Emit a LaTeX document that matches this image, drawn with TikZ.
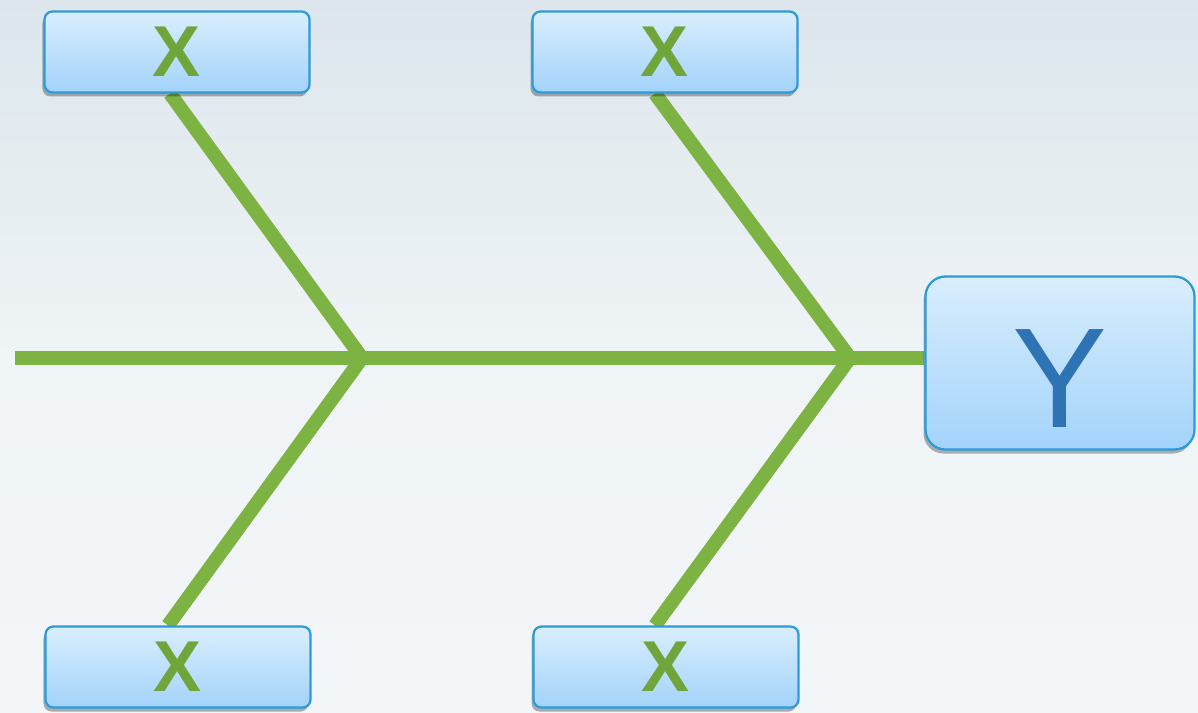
\documentclass[tikz,border=0pt]{standalone}
\usepackage{fontspec}
\setmainfont{Liberation Sans}
\usetikzlibrary{positioning,shadows,backgrounds}

\definecolor{bonegreen}{HTML}{7CB342}
\definecolor{xgreen}{HTML}{6FA53A}
\definecolor{ynavy}{HTML}{2E74B5}
\definecolor{boxline}{HTML}{2B9BD9}
\definecolor{boxtop}{HTML}{D9EEFD}
\definecolor{boxbot}{HTML}{A3D3FB}
\definecolor{skytop}{HTML}{DCE6EC}
\definecolor{skymid}{HTML}{EFF4F6}
\definecolor{skybot}{HTML}{F3F6F8}

\begin{document}
\begin{tikzpicture}[
  x=0.2mm, y=-0.2mm,
  causebox/.style={draw=boxline, line width=0.45mm, rounded corners=1.6mm,
    top color=boxtop, bottom color=boxbot, minimum width=53mm, minimum height=16.2mm,
    inner sep=0pt, text=xgreen, font=\fontsize{41}{41}\selectfont\bfseries,
    drop shadow={shadow xshift=-0.4mm, shadow yshift=-0.8mm, fill=black, opacity=0.3}},
  effectbox/.style={causebox, rounded corners=4mm, minimum width=53.8mm,
    minimum height=34.6mm, text=ynavy, font=\fontsize{81}{81}\selectfont,
    text height=25.6mm, text depth=0pt},
  bone/.style={draw=bonegreen, line width=2.8mm, line join=miter}]
  % cause boxes and the effect box
  \node[causebox] (c1) at (177,52) {X};
  \node[causebox] (c2) at (665,52) {X};
  \node[causebox] (c3) at (178,667) {X};
  \node[causebox] (c4) at (666,667) {X};
  \node[effectbox] (eff) at (1060,363) {Y};
  \coordinate (tail) at (15,358);
  \coordinate (j1) at (362,358);
  \coordinate (j2) at (850,358);
  \begin{pgfonlayer}{background}
    % sky behind everything
    \shade[top color=skytop, bottom color=skybot, middle color=skymid]
      (0,0) rectangle (1198,713);
    % spine and bones
    \draw[bone] (tail) -- (tail -| eff.west);
    \draw[bone] ([xshift=-1.4mm]c1.south) -- (j1) -- ([xshift=-2mm]c3.north);
    \draw[bone] ([xshift=-2mm]c2.south) -- (j2) -- ([xshift=-2.2mm]c4.north);
  \end{pgfonlayer}
\end{tikzpicture}
\end{document}
